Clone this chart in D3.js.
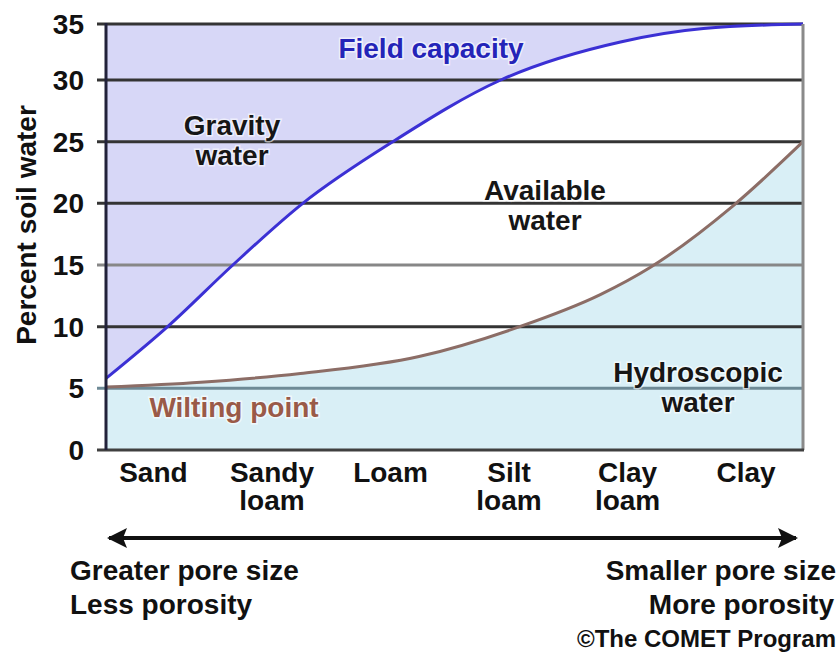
<!DOCTYPE HTML>
<html>
<head>
	<meta charset="utf-8">
	<style>
		body { margin: 0; background: #fff; }
		text { font-family: "Liberation Sans", Arial, sans-serif; font-weight: bold; }
		.grid { stroke-width: 3px; }
		.curve { fill: none; stroke-width: 3px; }
	</style>
	<script src="https://cdn.jsdelivr.net/npm/d3@7"></script>
</head>
<body>
<script>
	// values, x in soil-type index units (0 = Sand ... 5 = Clay)
	var yTicks = [0, 5, 10, 15, 20, 25, 30, 35];
	var soilTypes = [["Sand"], ["Sandy", "loam"], ["Loam"], ["Silt", "loam"], ["Clay", "loam"], ["Clay"]];
	var fieldCapacity = [[-0.4, 5.8], [0.12, 10], [0.67, 15], [1.26, 20], [2.02, 25], [2.93, 30],
		[3.94, 33.4], [4.64, 34.6], [5.48, 35]];
	var wiltingPoint = [[-0.4, 5.1], [0.4, 5.5], [1.24, 6.2], [2.25, 7.6], [3.09, 10], [3.77, 12.6],
		[4.19, 14.8], [4.89, 19.8], [5.48, 25]];

	var width = 840, height = 663;
	var plotLeft = 106, plotRight = 803, plotTop = 24, plotBottom = 450;

	var svg = d3.select("body").append("svg")
		.attr("width", width)
		.attr("height", height);

	var x = d3.scaleLinear().domain([-0.4, 5.48]).range([plotLeft, plotRight]);
	var y = d3.scaleLinear().domain([0, 30, 35]).range([plotBottom, 80, plotTop]);

	var curve = d3.curveMonotoneX;

	// shaded regions
	svg.append("path")
		.datum(fieldCapacity)
		.attr("fill", "#d7d7f7")
		.attr("d", d3.area().curve(curve)
			.x(function(d) { return x(d[0]); })
			.y0(y(35))
			.y1(function(d) { return y(d[1]); }));

	svg.append("path")
		.datum(wiltingPoint)
		.attr("fill", "#d9eff6")
		.attr("d", d3.area().curve(curve)
			.x(function(d) { return x(d[0]); })
			.y0(y(0))
			.y1(function(d) { return y(d[1]); }));

	// grid lines + ticks
	svg.selectAll(".grid")
		.data(yTicks.filter(function(d) { return d > 0; }))
		.enter().append("line")
		.attr("class", "grid")
		.attr("x1", plotLeft - 9)
		.attr("x2", plotRight)
		.attr("y1", function(d) { return y(d); })
		.attr("y2", function(d) { return y(d); })
		.attr("stroke", function(d) {
			if (d === 15) return "#878787";
			if (d === 5) return "#6e8a96";
			return "#343434";
		});

	// curves
	var line = d3.line().curve(curve)
		.x(function(d) { return x(d[0]); })
		.y(function(d) { return y(d[1]); });

	svg.append("path")
		.datum(wiltingPoint)
		.attr("class", "curve")
		.attr("stroke", "#8c6d66")
		.attr("d", line);

	svg.append("path")
		.datum(fieldCapacity)
		.attr("class", "curve")
		.attr("stroke", "#3b30d4")
		.attr("d", line);

	// frame
	svg.append("line").attr("x1", plotRight).attr("x2", plotRight).attr("y1", plotTop).attr("y2", plotBottom)
		.attr("stroke", "#8a8a8a").attr("stroke-width", 3);
	svg.append("line").attr("x1", plotLeft - 9).attr("x2", plotRight + 1).attr("y1", plotBottom).attr("y2", plotBottom)
		.attr("stroke", "#404040").attr("stroke-width", 3);
	svg.append("line").attr("x1", plotLeft).attr("x2", plotLeft).attr("y1", plotTop - 1).attr("y2", plotBottom)
		.attr("stroke", "#22223a").attr("stroke-width", 3);

	// y tick labels
	svg.selectAll(".ytick")
		.data(yTicks)
		.enter().append("text")
		.attr("class", "ytick")
		.attr("x", 84)
		.attr("y", function(d) { return y(d) + 10; })
		.attr("text-anchor", "end")
		.attr("font-size", 28)
		.attr("fill", "#111")
		.text(function(d) { return d; });

	svg.append("text")
		.attr("transform", "translate(36,225) rotate(-90)")
		.attr("text-anchor", "middle")
		.attr("font-size", 28)
		.attr("fill", "#111")
		.text("Percent soil water");

	// soil type labels
	var cat = svg.selectAll(".cat")
		.data(soilTypes)
		.enter().append("text")
		.attr("class", "cat")
		.attr("text-anchor", "middle")
		.attr("font-size", 28)
		.attr("fill", "#111");
	cat.selectAll("tspan")
		.data(function(d, i) { return d.map(function(t) { return {t: t, i: i}; }); })
		.enter().append("tspan")
		.attr("x", function(d) { return x(d.i); })
		.attr("y", function(d, j) { return 482 + j * 28; })
		.text(function(d) { return d.t; });

	// region labels
	var notes = [
		{lines: ["Field capacity"], x: 431, y: 58, color: "#2424b8"},
		{lines: ["Gravity", "water"], x: 232, y: 135, color: "#161616"},
		{lines: ["Available", "water"], x: 545, y: 200, color: "#161616"},
		{lines: ["Hydroscopic", "water"], x: 698, y: 382, color: "#161616"},
		{lines: ["Wilting point"], x: 234, y: 417, color: "#9a5a48"}
	];
	var note = svg.selectAll(".note")
		.data(notes)
		.enter().append("text")
		.attr("class", "note")
		.attr("text-anchor", "middle")
		.attr("font-size", 28)
		.attr("fill", function(d) { return d.color; })
		.attr("stroke", "rgba(255,255,255,0.6)")
		.attr("stroke-width", 3)
		.attr("paint-order", "stroke");
	note.selectAll("tspan")
		.data(function(d) { return d.lines.map(function(t) { return {t: t, d: d}; }); })
		.enter().append("tspan")
		.attr("x", function(d) { return d.d.x; })
		.attr("y", function(d, j) { return d.d.y + j * 30; })
		.text(function(d) { return d.t; });

	// arrow
	svg.append("defs").append("marker")
		.attr("id", "head")
		.attr("viewBox", "0 0 10 10")
		.attr("refX", 9).attr("refY", 5)
		.attr("markerWidth", 6).attr("markerHeight", 5)
		.attr("orient", "auto-start-reverse")
		.append("path")
		.attr("d", "M0,0 L10,5 L0,10 L2,5 Z")
		.attr("fill", "#111");
	svg.append("line")
		.attr("x1", 109).attr("x2", 796)
		.attr("y1", 538).attr("y2", 538)
		.attr("stroke", "#111").attr("stroke-width", 4)
		.attr("marker-start", "url(#head)")
		.attr("marker-end", "url(#head)");

	var foot = [
		{t: "Greater pore size", x: 70, y: 580, a: "start", s: 28},
		{t: "Less porosity", x: 70, y: 614, a: "start", s: 28},
		{t: "Smaller pore size", x: 836, y: 580, a: "end", s: 28},
		{t: "More porosity", x: 834, y: 614, a: "end", s: 28},
		{t: "\u00A9The COMET Program", x: 836, y: 647, a: "end", s: 24}
	];
	svg.selectAll(".foot")
		.data(foot)
		.enter().append("text")
		.attr("class", "foot")
		.attr("x", function(d) { return d.x; })
		.attr("y", function(d) { return d.y; })
		.attr("text-anchor", function(d) { return d.a; })
		.attr("font-size", function(d) { return d.s; })
		.attr("fill", "#111")
		.text(function(d) { return d.t; });
</script>
</body>
</html>
